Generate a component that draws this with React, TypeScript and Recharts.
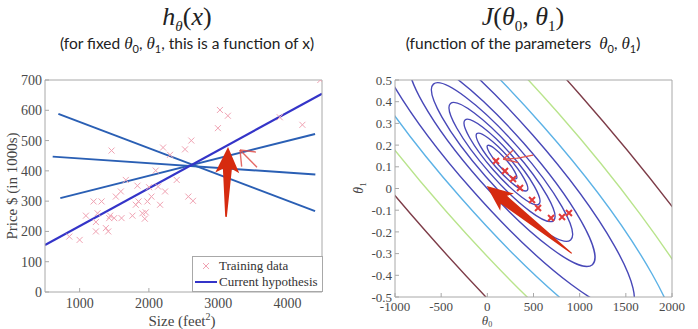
import React from "react";
import { ComposedChart, Legend, Line, ReferenceLine, Scatter, XAxis, YAxis } from "recharts";

// ---- left panel: housing data + candidate hypotheses ----
const sizeTicks = [1000, 2000, 3000, 4000];
const priceTicks = [0, 100, 200, 300, 400, 500, 600, 700];

const trainSize = [
  851, 1000, 1091, 1202, 1317, 1235, 1235, 1259, 1379, 1413, 1427, 1441, 1499, 1461, 1523,
  1595, 1605, 1667, 1763, 1811, 1835, 1850, 1907, 1941, 1955, 1979, 2003, 2037, 2099, 2133,
  2162, 2205, 2234, 2306, 2402, 2522, 2570, 2613, 2637, 2997, 3026, 3141, 3890, 4217, 4476,
];
const trainPrice = [
  183, 172, 252, 299, 299, 231, 200, 260, 211, 200, 244, 252, 244, 467, 315,
  332, 244, 370, 252, 288, 351, 299, 260, 242, 263, 299, 346, 315, 401, 348,
  288, 477, 332, 453, 370, 471, 315, 500, 301, 541, 601, 582, 577, 552, 700,
];

// end points of each straight hypothesis (size, price)
const currentHyp = [
  { x: 500, y: 155 },
  { x: 4500, y: 655 },
];
const otherHyps = [
  [{ x: 693, y: 588 }, { x: 4400, y: 267 }],
  [{ x: 611, y: 447 }, { x: 4404, y: 388 }],
  [{ x: 721, y: 310 }, { x: 4400, y: 522 }],
];

// annotations drawn on the slide (data coords)
const leftBigArrow = [{ x: 3114, y: 248 }, { x: 3143, y: 479 }];
const leftPenStrokes = [
  [{ x: 3316, y: 469 }, { x: 3547, y: 462 }],
  [{ x: 3316, y: 469 }, { x: 3340, y: 414 }],
  [{ x: 3316, y: 469 }, { x: 3561, y: 412 }],
];

// ---- right panel: contours of J(theta0, theta1) ----
const theta0Ticks = [-1000, -500, 0, 500, 1000, 1500, 2000];
const theta1Ticks = [-0.5, -0.4, -0.3, -0.2, -0.1, 0, 0.1, 0.2, 0.3, 0.4, 0.5];

// major-axis end points of each contour ellipse
const contourStartT0 = [2, -113, -241, -399, -584, -820, -1235, -1700, -2380, -3350];
const contourStartT1 = [0.198, 0.253, 0.316, 0.392, 0.481, 0.595, 0.796, 1.021, 1.350, 1.819];
const contourEndT0 = [316, 431, 559, 717, 902, 1138, 1553, 2018, 2698, 3668];
const contourEndT1 = [0.046, -0.009, -0.072, -0.148, -0.237, -0.351, -0.552, -0.777, -1.106, -1.575];
const contourTier = [0, 0, 0, 0, 0, 0, 0, 1, 2, 3];

// gradient descent steps
const stepT0 = [884, 809, 690, 549, 484, 354, 278, 191, 94];
const stepT1 = [-0.113, -0.131, -0.136, -0.09, -0.053, 0.002, 0.044, 0.081, 0.127];

const rightBigArrow = [{ x: 914, y: -0.299 }, { x: -7, y: 0.011 }];
const rightPenStrokes = [
  [{ x: 495, y: 0.154 }, { x: 318, y: 0.139 }],
  [{ x: 318, y: 0.139 }, { x: 173, y: 0.135 }],
  [{ x: 173, y: 0.135 }, { x: 281, y: 0.177 }],
  [{ x: 173, y: 0.135 }, { x: 336, y: 0.119 }],
];

const trainData = trainSize.map((x, i) => ({ x, y: trainPrice[i] }));
const stepData = stepT0.map((x, i) => ({ x, y: stepT1[i] }));

const SERIF = "'Liberation Serif', 'DejaVu Serif', serif";
const SANS = "Lato, 'Open Sans', sans-serif";
const RED = "#d62b10";
const BOX = "#a8a8a8";
const TICK = { fontFamily: SERIF, fontSize: 14, fill: "#4a4a4a" };
const TICK_SMALL = { ...TICK, fontSize: 13 };
const CONTOUR_COLORS = ["#4848b8", "#5cb2e6", "#b9e48c", "#7d3c48"];
const CONTOUR_RATIO = 0.21;

function Cross(props: any) {
  const { cx, cy, s, color, w } = props;
  if (cx == null || cy == null) return null;
  return (
    <path
      d={`M${cx - s},${cy - s}L${cx + s},${cy + s}M${cx - s},${cy + s}L${cx + s},${cy - s}`}
      stroke={color}
      strokeWidth={w}
      fill="none"
    />
  );
}

function ContourShape(props: any) {
  const { x1, y1, x2, y2, color, clipPath } = props;
  const cx = (x1 + x2) / 2;
  const cy = (y1 + y2) / 2;
  const rx = Math.hypot(x2 - x1, y2 - y1) / 2;
  const ang = (Math.atan2(y2 - y1, x2 - x1) * 180) / Math.PI;
  return (
    <g clipPath={clipPath}>
      <ellipse
        cx={cx}
        cy={cy}
        rx={rx}
        ry={rx * CONTOUR_RATIO}
        transform={`rotate(${ang} ${cx} ${cy})`}
        fill="none"
        stroke={color}
        strokeWidth={1.4}
      />
    </g>
  );
}

function ArrowShape(props: any) {
  const { x1, y1, x2, y2, headLen, headHalf, baseHalf, tailHalf } = props;
  const len = Math.hypot(x2 - x1, y2 - y1);
  const ux = (x2 - x1) / len;
  const uy = (y2 - y1) / len;
  const nx = -uy;
  const ny = ux;
  const bx = x2 - ux * headLen;
  const by = y2 - uy * headLen;
  // barbs swept back a little
  const kx = bx - ux * 4;
  const ky = by - uy * 4;
  const pts = [
    [x1 + nx * tailHalf, y1 + ny * tailHalf],
    [bx + nx * baseHalf, by + ny * baseHalf],
    [kx + nx * headHalf, ky + ny * headHalf],
    [x2, y2],
    [kx - nx * headHalf, ky - ny * headHalf],
    [bx - nx * baseHalf, by - ny * baseHalf],
    [x1 - nx * tailHalf, y1 - ny * tailHalf],
  ];
  return <polygon points={pts.map((p) => p.join(",")).join(" ")} fill={RED} />;
}

function LegendBox(props: any) {
  const items = (props.payload || [])
    .filter((p: any) => p.type !== "none")
    .sort((a: any, b: any) => (a.type === "cross" ? -1 : 0) - (b.type === "cross" ? -1 : 0));
  return (
    <div
      style={{
        border: `1px solid ${BOX}`,
        background: "#fff",
        padding: "1px 4px 1px 2px",
        fontFamily: SERIF,
        fontSize: 13,
        color: "#333",
        lineHeight: "16px",
      }}
    >
      {items.map((p: any) => (
        <div key={p.value} style={{ display: "flex", alignItems: "center" }}>
          <svg width={22} height={14} style={{ marginRight: 2 }}>
            {p.type === "cross" ? (
              <Cross cx={11} cy={7} s={3} color="#f0a3b3" w={1} />
            ) : (
              <line x1={0} y1={7} x2={22} y2={7} stroke={p.color} strokeWidth={2} />
            )}
          </svg>
          {p.value}
        </div>
      ))}
    </div>
  );
}

function LeftPanel() {
  return (
    <ComposedChart width={340} height={329} margin={{ top: 78, right: 16, bottom: 7, left: 5 }}>
      <XAxis
        dataKey="x"
        type="number"
        domain={[500, 4500]}
        ticks={sizeTicks}
        allowDataOverflow
        height={30}
        tick={TICK}
        tickSize={-4}
        tickMargin={10}
        stroke={BOX}
      />
      <XAxis
        xAxisId="top"
        orientation="top"
        type="number"
        domain={[500, 4500]}
        ticks={sizeTicks}
        height={2}
        tickFormatter={() => ""}
        tickSize={-4}
        stroke={BOX}
      />
      <YAxis
        dataKey="y"
        type="number"
        domain={[0, 700]}
        ticks={priceTicks}
        allowDataOverflow
        width={40}
        tick={TICK}
        tickSize={-4}
        tickMargin={7}
        stroke={BOX}
      />
      <YAxis
        yAxisId="right"
        orientation="right"
        type="number"
        domain={[0, 700]}
        ticks={priceTicks}
        width={2}
        tickFormatter={() => ""}
        tickSize={-4}
        stroke={BOX}
      />
      <Scatter
        name="Training data"
        data={trainData}
        dataKey="y"
        legendType="cross"
        fill="#f0a3b3"
        shape={(p: any) => <Cross {...p} s={3} color="#f0a3b3" w={1} />}
        isAnimationActive={false}
      />
      {otherHyps.map((d, i) => (
        <Line
          key={i}
          data={d}
          dataKey="y"
          stroke="#2a5fb4"
          strokeWidth={2}
          dot={false}
          legendType="none"
          isAnimationActive={false}
        />
      ))}
      <Line
        name="Current hypothesis"
        data={currentHyp}
        dataKey="y"
        stroke="#3434c8"
        strokeWidth={2.2}
        dot={false}
        isAnimationActive={false}
      />
      {leftPenStrokes.map((seg, i) => (
        <ReferenceLine
          key={i}
          segment={seg}
          ifOverflow="visible"
          stroke="#e0504a"
          strokeWidth={1.4}
          strokeOpacity={0.85}
        />
      ))}
      <ReferenceLine
        segment={leftBigArrow}
        ifOverflow="visible"
        shape={(p: any) => <ArrowShape {...p} headLen={22} headHalf={12} baseHalf={4.5} tailHalf={0.8} />}
      />
      <Legend
        layout="vertical"
        align="center"
        verticalAlign="middle"
        wrapperStyle={{ left: 192, top: 256, width: "auto" }}
        content={(p: any) => <LegendBox {...p} />}
      />
    </ComposedChart>
  );
}

function RightPanel() {
  return (
    <ComposedChart width={358} height={329} margin={{ top: 78, right: 24, bottom: 6, left: 10 }}>
      <XAxis
        dataKey="x"
        type="number"
        domain={[-1000, 2000]}
        ticks={theta0Ticks}
        allowDataOverflow
        height={26}
        tick={TICK_SMALL}
        tickSize={-4}
        tickMargin={9}
        stroke={BOX}
      />
      <XAxis
        xAxisId="top"
        orientation="top"
        type="number"
        domain={[-1000, 2000]}
        ticks={theta0Ticks}
        height={2}
        tickFormatter={() => ""}
        tickSize={-4}
        stroke={BOX}
      />
      <YAxis
        dataKey="y"
        type="number"
        domain={[-0.5, 0.5]}
        ticks={theta1Ticks}
        allowDataOverflow
        width={45}
        tick={TICK_SMALL}
        tickSize={-4}
        tickMargin={7}
        tickFormatter={(v: number) => String(Math.round(v * 10) / 10)}
        stroke={BOX}
      />
      <YAxis
        yAxisId="right"
        orientation="right"
        type="number"
        domain={[-0.5, 0.5]}
        ticks={theta1Ticks}
        width={2}
        tickFormatter={() => ""}
        tickSize={-4}
        stroke={BOX}
      />
      {contourStartT0.map((t0, i) => (
        <ReferenceLine
          key={i}
          segment={[
            { x: t0, y: contourStartT1[i] },
            { x: contourEndT0[i], y: contourEndT1[i] },
          ]}
          ifOverflow="hidden"
          shape={(p: any) => <ContourShape {...p} color={CONTOUR_COLORS[contourTier[i]]} />}
        />
      ))}
      <Scatter
        data={stepData}
        dataKey="y"
        shape={(p: any) => <Cross {...p} s={3} color="#e23a3a" w={2} />}
        isAnimationActive={false}
      />
      {rightPenStrokes.map((seg, i) => (
        <ReferenceLine key={i} segment={seg} ifOverflow="visible" stroke="#e0504a" strokeWidth={1.3} />
      ))}
      <ReferenceLine
        segment={rightBigArrow}
        ifOverflow="visible"
        shape={(p: any) => <ArrowShape {...p} headLen={22} headHalf={11} baseHalf={5} tailHalf={0.6} />}
      />
    </ComposedChart>
  );
}

const abs = (s: React.CSSProperties): React.CSSProperties => ({ position: "absolute", whiteSpace: "nowrap", ...s });

export default function App() {
  return (
    <div style={{ position: "absolute", left: 0, top: 0, width: 698, height: 329, background: "#fff", overflow: "hidden" }}>
      <div style={abs({ left: 0, top: 0 })}>
        <LeftPanel />
      </div>
      <div style={abs({ left: 340, top: 0 })}>
        <RightPanel />
      </div>

      {/* headings */}
      <div style={abs({ left: 0, width: 374, top: 2, textAlign: "center", fontFamily: SERIF, fontSize: 26, fontStyle: "italic", color: "#222" })}>
        h<sub style={{ fontSize: 15 }}>θ</sub>
        <span style={{ fontStyle: "normal" }}>(</span>x<span style={{ fontStyle: "normal" }}>)</span>
      </div>
      <div style={abs({ left: 0, width: 374, top: 34, textAlign: "center", fontFamily: SANS, fontSize: 15.5, color: "#222" })}>
        (for fixed <i style={{ fontFamily: SERIF, fontSize: 17 }}>θ</i><sub style={{ fontSize: 11 }}>0</sub>,{" "}
        <i style={{ fontFamily: SERIF, fontSize: 17 }}>θ</i><sub style={{ fontSize: 11 }}>1</sub>, this is a function of x)
      </div>
      <div style={abs({ left: 373, width: 300, top: 2, textAlign: "center", fontFamily: SERIF, fontSize: 26, color: "#222" })}>
        <i>J</i>(<i>θ</i><sub style={{ fontSize: 15 }}>0</sub>, <i>θ</i><sub style={{ fontSize: 15 }}>1</sub>)
      </div>
      <div style={abs({ left: 363, width: 320, top: 34, textAlign: "center", fontFamily: SANS, fontSize: 15.5, color: "#222" })}>
        (function of the parameters&nbsp; <i style={{ fontFamily: SERIF, fontSize: 17 }}>θ</i><sub style={{ fontSize: 11 }}>0</sub>,{" "}
        <i style={{ fontFamily: SERIF, fontSize: 17 }}>θ</i><sub style={{ fontSize: 11 }}>1</sub>)
      </div>

      {/* axis titles */}
      <div style={abs({ left: 12, top: 186, transform: "translate(-50%, -50%) rotate(-90deg)", fontFamily: SERIF, fontSize: 15, color: "#444" })}>
        Price $ (in 1000s)
      </div>
      <div style={abs({ left: 182, top: 320, transform: "translate(-50%, -50%)", fontFamily: SERIF, fontSize: 15, color: "#444" })}>
        Size (feet<sup style={{ fontSize: 10 }}>2</sup>)
      </div>
      <div style={abs({ left: 487, top: 315, height: 13, fontFamily: SERIF, fontSize: 13, fontStyle: "italic", color: "#444", lineHeight: "12px", transform: "translateX(-50%)" })}>
        θ<span style={{ fontSize: 8, fontStyle: "normal", position: "relative", top: 2 }}>0</span>
      </div>
      <div style={abs({ left: 361, top: 188, transform: "translate(-50%, -50%) rotate(-90deg)", fontFamily: SERIF, fontSize: 14, fontStyle: "italic", color: "#444", lineHeight: "14px" })}>
        θ<sub style={{ fontSize: 9, fontStyle: "normal" }}>1</sub>
      </div>
    </div>
  );
}
